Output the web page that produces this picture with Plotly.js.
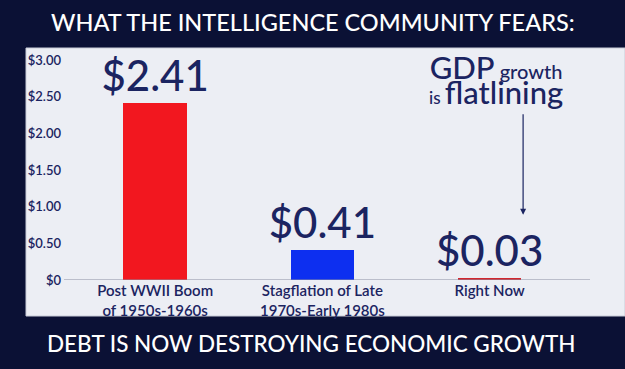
<!DOCTYPE html>
<html>
<head>
<meta charset="utf-8">
<script src="https://cdn.plot.ly/plotly-3.0.1.min.js"></script>
<style>html,body{margin:0;padding:0;background:#0b1135;}#chart{width:625px;height:369px;}</style>
</head>
<body>
<div id="chart"></div>
<script>
const categories = ["Post WWII Boom<br>of 1950s-1960s", "Stagflation of Late<br>1970s-Early 1980s", "Right Now"];
const values = [2.41, 0.41, 0.03];
const valueLabels = ["$2.41", "$0.41", "$0.03"];
const barColors = ["#f2171f", "#0d2ff0", "#d1262e"];
const tickVals = [0, 0.5, 1, 1.5, 2, 2.5, 3];
const tickText = ["$0", "$0.50", "$1.00", "$1.50", "$2.00", "$2.50", "$3.00"];

const navy = "#1b2461";
const font = "Lato, 'Open Sans', sans-serif";

const trace = {
  type: "bar",
  x: [0, 1, 2],
  y: values,
  width: [0.38, 0.38, 0.38],
  marker: {color: barColors},
  text: valueLabels,
  textposition: "outside",
  cliponaxis: false,
  constraintext: "none",
  textfont: {family: font, size: 42, color: navy, weight: 500},
  hoverinfo: "none"
};

const layout = {
  width: 625, height: 369,
  paper_bgcolor: "#0b1135",
  plot_bgcolor: "rgba(0,0,0,0)",
  margin: {l: 64, r: 35, t: 60, b: 89},
  showlegend: false,
  bargap: 0,
  xaxis: {
    range: [-0.545, 2.6],
    tickvals: [0, 1, 2],
    ticktext: categories,
    tickfont: {family: font, size: 15, color: navy, weight: 600},
    showgrid: false, zeroline: false,
    showline: false, ticks: "", fixedrange: true
  },
  yaxis: {
    range: [0, 3],
    tickvals: tickVals,
    ticktext: tickText,
    tickfont: {family: font, size: 13, color: navy, weight: 600},
    showgrid: false, zeroline: false, showline: false,
    ticks: "", ticklabelstandoff: 2, fixedrange: true
  },
  shapes: [
    {type: "rect", xref: "paper", yref: "paper", layer: "below",
     x0: -38/526, x1: 561/526, y0: -36/220, y1: 232/220,
     fillcolor: "#eceef4", line: {color: "#c9ccd8", width: 1}},
    {type: "line", xref: "paper", yref: "y", x0: 0, x1: 1, y0: 0, y1: 0,
     line: {color: "#8a8fa3", width: 1}}
  ],
  annotations: [
    {text: "WHAT THE INTELLIGENCE COMMUNITY FEARS:", xref: "paper", yref: "paper",
     x: 0.5 - 14/526, y: 1 + 38/220, xanchor: "center", yanchor: "middle", showarrow: false,
     font: {family: font, size: 23.5, color: "#ffffff", weight: 500}},
    {text: "DEBT IS NOW DESTROYING ECONOMIC GROWTH", xref: "paper", yref: "paper",
     x: 0.5 - 16/526, y: -63/220, xanchor: "center", yanchor: "middle", showarrow: false,
     font: {family: font, size: 22.5, color: "#ffffff", weight: 500}},
    {text: "<span style='font-size:31px'>GDP</span><span style='font-size:20px'> growth</span><br><span style='font-size:17px'>is </span><span style='font-size:31px'>flatlining</span>",
     xref: "x", yref: "y", x: 2.04, y: 2.73, xanchor: "center", yanchor: "middle",
     showarrow: false, align: "center", font: {family: font, size: 19, color: navy, weight: 500}},
    {text: "", xref: "x", yref: "y", x: 2.2, y: 0.89, axref: "x", ayref: "y",
     ax: 2.2, ay: 2.28, showarrow: true, arrowhead: 2, arrowsize: 1, arrowwidth: 1.2,
     arrowcolor: navy}
  ]
};

Plotly.newPlot("chart", [trace], layout, {displayModeBar: false, staticPlot: true});
</script>
</body>
</html>
